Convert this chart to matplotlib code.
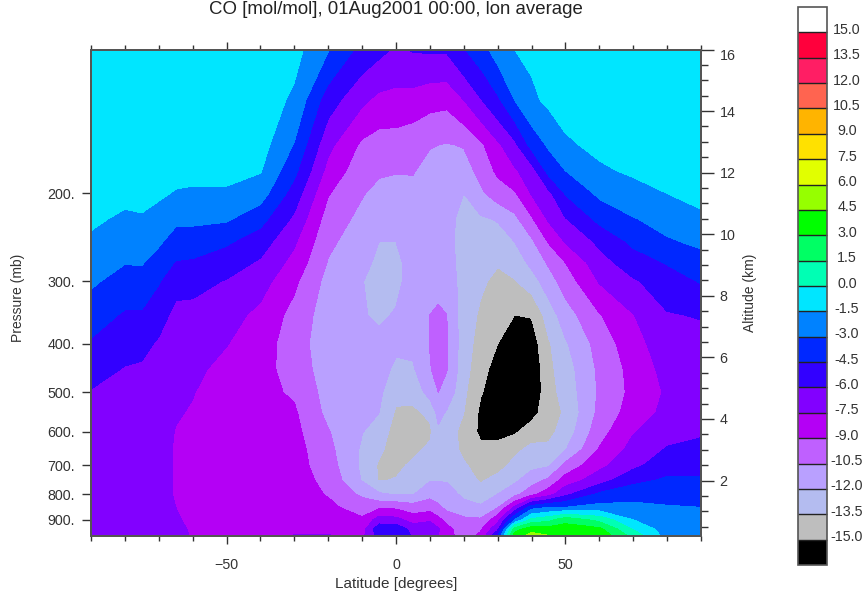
import numpy as np
import matplotlib
matplotlib.use('Agg')
import matplotlib.pyplot as plt
from matplotlib.ticker import FixedLocator, NullLocator, FixedFormatter
from matplotlib.transforms import ScaledTranslation

plt.rcParams['font.family'] = ['Liberation Sans', 'DejaVu Sans']

# values, one row per latitude, top of the plot first
pressure = [103, 130, 160, 180, 200, 225, 250, 275, 300, 350, 400, 450,
            500, 550, 600, 650, 700, 750, 800, 850, 900, 940, 970]
latitude = [-90, -80, -75, -70, -65, -60, -50, -40, -30, -20, -10, -5, 0, 5, 10, 12.5, 15, 20,
            25, 30, 35, 40, 45, 50, 60, 70, 80, 90]
co_values = [
    [-0.6, -0.6, -0.7, -0.8, -1.0, -1.3, -1.7, -2.3, -2.8, -3.7, -4.7, -5.4, -6.1, -6.4, -6.5, -6.6, -6.7, -6.8, -6.9, -6.9, -7.0, -7.0, -7.0],
    [-0.6, -0.6, -0.7, -0.9, -1.2, -1.7, -2.3, -2.95, -3.5, -4.7, -5.4, -6.1, -6.4, -6.5, -6.6, -6.7, -6.8, -6.8, -6.9, -6.9, -7.0, -7.0, -7.0],
    [-0.6, -0.6, -0.7, -0.9, -1.2, -1.6, -2.3, -2.9, -3.5, -4.7, -5.6, -6.2, -6.5, -6.7, -6.8, -6.9, -6.9, -6.9, -7.0, -7.0, -7.0, -7.1, -7.1],
    [-0.5, -0.6, -0.7, -1.0, -1.3, -2.0, -2.8, -3.6, -4.4, -5.4, -6.2, -6.5, -6.7, -6.9, -7.0, -7.1, -7.1, -7.1, -7.1, -7.1, -7.1, -7.1, -7.1],
    [-0.5, -0.6, -0.8, -1.1, -1.6, -2.7, -3.6, -4.6, -5.5, -6.4, -6.8, -7.0, -7.2, -7.4, -7.55, -7.6, -7.6, -7.6, -7.6, -7.5, -7.4, -7.3, -7.3],
    [-0.5, -0.6, -0.8, -1.1, -1.7, -2.7, -3.7, -4.7, -5.5, -6.5, -6.9, -7.2, -7.45, -7.6, -7.8, -7.9, -7.9, -7.9, -7.9, -7.8, -7.7, -7.6, -7.55],
    [-0.5, -0.6, -0.8, -1.1, -1.7, -2.8, -4.3, -5.3, -6.1, -6.9, -7.45, -7.9, -8.1, -8.2, -8.3, -8.4, -8.4, -8.4, -8.4, -8.4, -8.3, -8.2, -8.2],
    [-0.5, -0.6, -0.9, -1.4, -2.3, -4.0, -5.3, -6.2, -6.9, -7.9, -8.3, -8.5, -8.6, -8.7, -8.7, -8.7, -8.7, -8.7, -8.7, -8.7, -8.6, -8.5, -8.5],
    [-1.0, -1.8, -3.1, -4.1, -5.2, -6.3, -7.3, -8.0, -8.7, -9.5, -9.8, -9.6, -9.2, -8.8, -8.6, -8.4, -8.4, -8.4, -8.4, -8.3, -8.1, -7.8, -7.4],
    [-2.9, -5.3, -7.1, -8.0, -8.9, -9.7, -10.2, -10.6, -11.0, -11.3, -11.4, -11.3, -11.1, -10.9, -10.4, -10.1, -9.8, -9.4, -9.1, -8.7, -8.2, -7.8, -7.4],
    [-5.0, -7.2, -9.3, -9.9, -10.4, -10.9, -11.3, -11.6, -11.95, -11.9, -11.7, -11.6, -11.7, -11.8, -11.95, -12.2, -12.3, -12.1, -10.8, -9.6, -8.8, -8.2, -7.9],
    [-5.6, -7.9, -9.7, -10.3, -10.9, -11.6, -12.0, -12.3, -12.5, -12.2, -11.7, -11.6, -11.7, -12.0, -12.6, -13.2, -13.7, -13.6, -11.8, -9.3, -6.8, -5.0, -5.3],
    [-6.2, -8.0, -9.7, -10.4, -11.1, -11.6, -12.0, -12.3, -12.3, -11.9, -11.8, -12.2, -13.1, -13.7, -14.2, -14.2, -13.9, -13.4, -12.1, -9.3, -7.0, -5.0, -4.8],
    [-5.9, -8.1, -10.0, -10.4, -10.9, -11.3, -11.5, -11.5, -11.5, -11.4, -11.6, -12.2, -13.0, -13.8, -14.3, -13.9, -13.2, -12.6, -12.1, -9.8, -8.2, -6.5, -6.2],
    [-5.8, -8.5, -10.4, -11.0, -11.3, -11.5, -11.6, -11.6, -11.4, -10.5, -10.45, -10.6, -11.4, -13.2, -13.8, -13.2, -12.5, -12.1, -11.0, -9.6, -7.8, -6.2, -6.9],
    [-5.8, -8.55, -10.5, -11.05, -11.35, -11.55, -11.5, -11.4, -11.1, -10.2, -9.9, -10.0, -10.5, -11.5, -12.3, -12.9, -12.5, -12.1, -11.2, -10.2, -8.6, -7.3, -7.6],
    [-5.8, -8.6, -10.6, -11.1, -11.4, -11.6, -11.5, -11.3, -11.0, -10.5, -10.4, -10.45, -11.0, -12.2, -12.7, -12.6, -12.4, -12.1, -11.4, -10.9, -9.5, -8.5, -8.3],
    [-4.6, -7.5, -10.4, -11.2, -12.0, -12.4, -12.6, -12.7, -12.7, -12.8, -12.8, -12.9, -13.2, -13.5, -14.0, -13.9, -13.3, -12.7, -12.3, -11.5, -10.2, -9.9, -9.9],
    [-3.6, -6.1, -9.3, -10.0, -10.8, -12.2, -12.7, -13.0, -13.3, -13.7, -14.1, -14.5, -14.9, -15.3, -15.3, -14.7, -14.2, -13.7, -12.7, -11.8, -10.3, -9.2, -8.6],
    [-2.3, -4.8, -7.8, -8.7, -9.7, -11.9, -12.6, -13.4, -13.8, -14.3, -15.0, -15.6, -15.7, -15.7, -15.2, -14.8, -14.2, -12.9, -12.0, -10.6, -8.0, -6.3, -4.6],
    [-1.5, -3.0, -6.4, -7.7, -9.2, -10.9, -12.0, -12.9, -13.6, -15.0, -15.8, -16.1, -16.1, -15.8, -15.2, -13.9, -13.0, -12.3, -11.0, -7.2, -3.0, 2.3, 3.8],
    [-1.2, -1.8, -4.0, -6.7, -7.4, -9.2, -10.8, -11.6, -12.7, -14.9, -15.8, -16.3, -16.2, -15.5, -14.3, -13.1, -12.4, -11.2, -9.5, -3.6, 0.4, 4.0, 5.0],
    [-1.0, -1.2, -2.8, -4.0, -6.4, -7.3, -8.9, -10.3, -11.2, -12.8, -13.7, -13.9, -14.1, -14.2, -13.9, -13.2, -12.2, -10.2, -8.1, -3.0, 1.0, 3.7, 4.6],
    [-0.9, -1.0, -1.7, -3.0, -4.4, -6.1, -7.4, -9.0, -9.8, -11.2, -12.2, -12.7, -12.9, -13.3, -12.9, -12.1, -10.1, -8.3, -6.4, -3.0, 2.5, 3.7, 4.5],
    [-0.8, -0.9, -1.2, -1.7, -2.7, -4.1, -5.7, -6.6, -7.4, -9.1, -9.9, -10.2, -10.3, -10.1, -9.6, -8.9, -7.9, -6.7, -4.2, -2.5, 1.0, 3.4, 4.2],
    [-0.8, -0.9, -1.0, -1.3, -2.0, -3.1, -4.2, -5.2, -6.2, -7.55, -8.1, -8.5, -8.6, -8.3, -7.6, -7.0, -6.4, -4.9, -3.6, -2.6, -1.5, -0.1, 1.0],
    [-0.7, -0.8, -0.9, -1.1, -1.5, -2.4, -3.2, -4.4, -5.2, -6.1, -6.6, -7.0, -7.3, -7.1, -6.5, -5.9, -5.1, -4.3, -3.5, -2.9, -2.6, -2.3, -2.1],
    [-0.7, -0.8, -0.8, -0.9, -1.2, -1.7, -2.7, -3.6, -4.4, -5.9, -6.5, -6.9, -7.0, -6.8, -6.2, -5.6, -5.0, -4.3, -3.7, -3.0, -2.7, -2.5, -2.4],
]

levels = [-15.0, -13.5, -12.0, -10.5, -9.0, -7.5, -6.0, -4.5, -3.0, -1.5, 0.0,
          1.5, 3.0, 4.5, 6.0, 7.5, 9.0, 10.5, 12.0, 13.5, 15.0]
band_colors = ['#000000', '#bebebe', '#b4bcf0', '#b9a0ff', '#bf60ff', '#b400f5',
               '#8200ff', '#3200ff', '#0028ff', '#0082ff', '#00e6ff', '#00ffb4',
               '#00ff64', '#00ff00', '#96ff00', '#e1ff00', '#ffe100', '#ffb400',
               '#ff6450', '#ff1e64', '#ff003c', '#ffffff']

pressure_ticks = [200, 300, 400, 500, 600, 700, 800, 900]
pressure_labels = ['200.', '300.', '400.', '500.', '600.', '700.', '800.', '900.']
altitude_ticks = [2, 4, 6, 8, 10, 12, 14, 16]
lat_ticks = [-50, 0, 50]

text_color = '#333333'
edge_color = '#555555'

fig = plt.figure(figsize=(8.66, 5.95), dpi=100)
ax = fig.add_axes([91 / 866, 1 - 536 / 595, 610 / 866, 486.5 / 595])

# values go (latitude, pressure) so flip to (pressure, latitude) for contourf
z = np.array(co_values).T
cs = ax.contourf(latitude, pressure, z, levels=levels, colors=band_colors, extend='both')

ax.set_yscale('log')
ax.set_ylim(970, 103)
ax.set_xlim(-90, 90)
ax.yaxis.set_major_locator(FixedLocator(pressure_ticks))
ax.yaxis.set_major_formatter(FixedFormatter(pressure_labels))
ax.yaxis.set_minor_locator(NullLocator())
ax.set_xticks(lat_ticks)
ax.set_xticks(np.arange(-90, 91, 10), minor=True)
ax.tick_params(axis='x', which='major', top=True, length=6, width=1, color=text_color,
               labelsize=10.3, labelcolor=text_color, pad=10)
ax.tick_params(axis='x', which='minor', top=True, length=3.6, width=1, color=text_color)
ax.tick_params(axis='y', which='major', length=6.5, width=1, color=text_color,
               labelsize=10.3, labelcolor=text_color, pad=5)
for s in ax.spines.values():
    s.set_color(edge_color)
    s.set_linewidth(1.4)

# altitude on the right
ax2 = ax.twinx()
ax2.set_ylim(0.2, 16)
ax2.set_yticks(altitude_ticks)
ax2.set_yticks(np.arange(0.5, 16, 0.5), minor=True)
ax2.tick_params(axis='y', which='major', length=9.4, width=1, color=text_color,
                labelsize=10.3, labelcolor=text_color, pad=4)
ax2.tick_params(axis='y', which='minor', length=4.7, width=1, color=text_color)
for s in ax2.spines.values():
    s.set_color(edge_color)
    s.set_linewidth(1.4)
# top label sits a bit lower than its tick
top_label = ax2.get_yticklabels()[-1]
top_label.set_transform(top_label.get_transform() + ScaledTranslation(0, -5 / 100, fig.dpi_scale_trans))

# the reference clips this title at the top edge, here it just fits
fig.text(395.5 / 866, 1 - 14 / 595, 'CO [mol/mol], 01Aug2001 00:00, lon average', ha='center', va='baseline',
         fontsize=13.4, color='#222222')
fig.text(396 / 866, 1 - 584 / 595, 'Latitude [degrees]', ha='center', va='center',
         fontsize=11, color=text_color)
fig.text(18 / 866, 1 - 298 / 595, 'Pressure (mb)', rotation=90, ha='center', va='center',
         fontsize=10, color=text_color)
fig.text(750 / 866, 1 - 293 / 595, 'Altitude (km)', rotation=90, ha='center', va='center',
         fontsize=10, color=text_color)

# colour bar, one cell per band
cax = fig.add_axes([798 / 866, 1 - 565 / 595, 29 / 866, 558 / 595])
cbar = fig.colorbar(cs, cax=cax, ticks=levels, extend='both', extendrect=True, extendfrac='auto',
                    spacing='uniform', drawedges=True)
cbar.outline.set_edgecolor(edge_color)
cbar.outline.set_linewidth(1.2)
cbar.dividers.set_color('#222222')
cbar.dividers.set_linewidth(1.0)
cbar.ax.tick_params(length=0, pad=14.4, labelsize=10.3, labelcolor=text_color)
cbar.ax.set_yticks(levels)
cbar.ax.set_yticklabels(['%.1f' % v for v in levels])
for lab in cbar.ax.get_yticklabels():
    lab.set_ha('center')
    lab.set_transform(lab.get_transform() + ScaledTranslation(0, 4 / 100, fig.dpi_scale_trans))

fig.savefig('out.png', dpi=100)
